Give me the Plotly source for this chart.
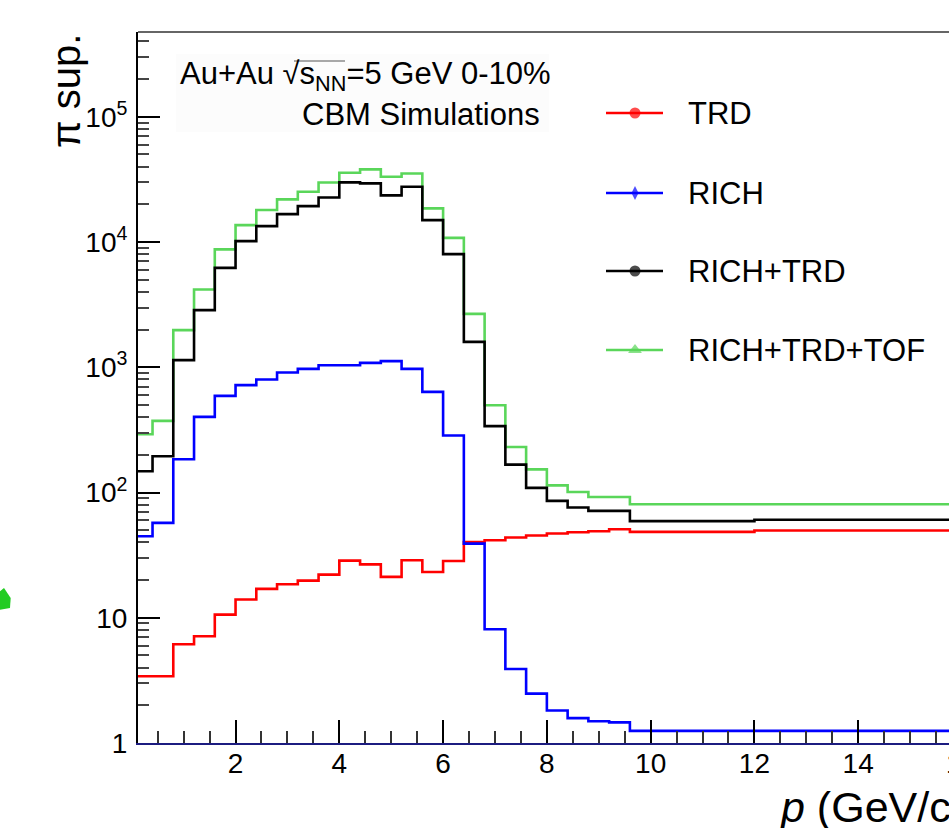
import plotly.graph_objects as go

# ---------------- data ----------------
# bin edges in p (GeV/c): 0.4 GeV/c bins up to 9.6, then two wide bins
bin_edges = [0.0, 0.4, 0.8, 1.2, 1.6, 2.0, 2.4, 2.8, 3.2, 3.6, 4.0, 4.4, 4.8,
             5.2, 5.6, 6.0, 6.4, 6.8, 7.2, 7.6, 8.0, 8.4, 8.8, 9.2, 9.6, 12.0, 20.0]

trd = [3.41, 3.41, 6.14, 7.11, 10.6, 13.97, 17.0, 18.5, 19.8, 22.1, 28.6, 26.7,
       21.2, 28.8, 23.2, 28.4, 40.3, 41.6, 43.7, 45.4, 47.1, 48.2, 49.1, 50.9,
       48.5, 49.7]
rich = [44.8, 57.2, 184.5, 402, 591, 720, 799, 908, 971, 1039, 1039, 1084,
        1119, 971, 636, 285, 39.1, 8.09, 3.90, 2.48, 1.82, 1.58, 1.49, 1.46,
        1.25, 1.25]
rich_trd = [148, 195, 1140, 2860, 6220, 10170, 13400, 16700, 19360, 22700,
            29930, 29380, 23560, 27620, 14960, 8000, 1596, 339, 167, 109, 85.7,
            75.9, 71.3, 71.3, 59.1, 60.6]
rich_trd_tof = [292, 373, 1980, 4180, 8730, 13650, 18000, 21900, 25200, 29900,
                35700, 38000, 33200, 35300, 18550, 10800, 2670, 498, 231, 153,
                114, 101, 92, 92, 80.7, 80.7]

series_names = ["TRD", "RICH", "RICH+TRD", "RICH+TRD+TOF"]
y_tick_vals = [1, 10, 100, 1000, 10000, 100000]
y_tick_text = ["1", "10", "10<sup>2</sup>", "10<sup>3</sup>", "10<sup>4</sup>", "10<sup>5</sup>"]
x_tick_vals = [2, 4, 6, 8, 10, 12, 14]

# ---------------- layout geometry ----------------
W, H = 949, 828
L, R, T, B = 138, 0, 32, 85
X_RANGE = [0.12, 15.75]
Y_RANGE = [0, 5.677]
FONT = "Liberation Sans"

def px2x(p):
    return (p - L) / (W - L - R)

def py2y(p):
    return (H - B - p) / (H - T - B)

colors = {"TRD": "#ff0000", "RICH": "#0000ff", "RICH+TRD": "#000000",
          "RICH+TRD+TOF": "#5ad65a"}
symbols = {"TRD": "circle", "RICH": "diamond-tall", "RICH+TRD": "circle",
           "RICH+TRD+TOF": "triangle-up"}
msizes = {"TRD": 11, "RICH": 10, "RICH+TRD": 11, "RICH+TRD+TOF": 12}
data = {"TRD": trd, "RICH": rich, "RICH+TRD": rich_trd, "RICH+TRD+TOF": rich_trd_tof}

fig = go.Figure()

draw_order = ["RICH+TRD+TOF", "RICH+TRD", "TRD", "RICH"]
for name in draw_order:
    vals = data[name]
    fig.add_trace(go.Scatter(
        x=bin_edges, y=list(vals) + [vals[-1]],
        mode="lines", line=dict(color=colors[name], width=2.6, shape="hv"),
        name=name, showlegend=False, hoverinfo="skip"))

# ---------------- hand-made legend on an overlay axis ----------------
legend_y_px = [113, 193, 271, 350]
for name, ypx in zip(series_names, legend_y_px):
    yy = py2y(ypx)
    fig.add_trace(go.Scatter(
        x=[px2x(606), px2x(635), px2x(663)], y=[yy, yy, yy],
        mode="lines+markers", xaxis="x2", yaxis="y2",
        line=dict(color=colors[name], width=2.6),
        marker=dict(symbol=symbols[name], size=[0, msizes[name], 0],
                    color=colors[name], line=dict(width=0)),
        showlegend=False, hoverinfo="skip"))
    fig.add_annotation(x=px2x(686), y=yy, xref="paper", yref="paper",
                       text=name, showarrow=False, xanchor="left", yanchor="middle",
                       font=dict(family=FONT, size=31, color="black"))

# ---------------- text ----------------
fig.add_annotation(
    x=px2x(178), y=py2y(76), xref="paper", yref="paper", showarrow=False,
    xanchor="left", yanchor="middle",
    text="Au+Au \u221as<sub>NN</sub>=5 GeV 0-10%",
    font=dict(family=FONT, size=31, color="black"))
fig.add_annotation(
    x=px2x(542), y=py2y(114), xref="paper", yref="paper", showarrow=False,
    xanchor="right", yanchor="middle", text="CBM Simulations",
    font=dict(family=FONT, size=31, color="black"))

# axis titles
fig.add_annotation(
    x=px2x(66), y=1, xref="paper", yref="paper", showarrow=False,
    xanchor="center", yanchor="top", textangle=-90, text="\u03c0 sup.",
    font=dict(family=FONT, size=40, color="black"))
fig.add_annotation(
    x=px2x(777), y=py2y(807), xref="paper", yref="paper", showarrow=False,
    xanchor="left", yanchor="middle", text="<i>p</i> (GeV/c)",
    font=dict(family=FONT, size=43, color="black"))
# partially visible "16" tick label at the cut right edge
fig.add_annotation(
    x=(16 - X_RANGE[0]) / (X_RANGE[1] - X_RANGE[0]), y=py2y(763),
    xref="paper", yref="paper", showarrow=False, xanchor="center",
    yanchor="middle", text="16", font=dict(family=FONT, size=28, color="black"))

# ---------------- shapes ----------------
shapes = [
    dict(type="rect", xref="paper", yref="paper", x0=px2x(176), x1=px2x(549),
         y0=py2y(132), y1=py2y(54), fillcolor="#fcfcfc", line=dict(width=0),
         layer="below"),
    # radical overline of sqrt(s_NN)
    dict(type="line", xref="paper", yref="paper", x0=px2x(294), x1=px2x(345),
         y0=py2y(61), y1=py2y(61), line=dict(color="#555555", width=1.2)),
    dict(type="line", xref="paper", yref="paper", x0=0, x1=1, y0=1, y1=1,
         line=dict(color="#333333", width=1.5)),
    dict(type="path", xref="paper", yref="paper",
         path="M {:.4f},{:.4f} L {:.4f},{:.4f} L {:.4f},{:.4f} L {:.4f},{:.4f} L {:.4f},{:.4f} Z".format(
             px2x(-2), py2y(593), px2x(4), py2y(588), px2x(10.7), py2y(598),
             px2x(10), py2y(608), px2x(-2), py2y(610)),
         fillcolor="#22cc22", line=dict(width=0)),
]

fig.update_layout(
    width=W, height=H,
    margin=dict(l=L, r=R, t=T, b=B, pad=0),
    paper_bgcolor="white", plot_bgcolor="white",
    showlegend=False,
    shapes=shapes,
    xaxis=dict(range=X_RANGE, showgrid=False, zeroline=False,
               showline=True, linecolor="#1c1c80", linewidth=2,
               ticks="inside", ticklen=23, tickwidth=1.5, tickcolor="black",
               tickvals=x_tick_vals, ticklabelstandoff=-6,
               tickfont=dict(family=FONT, size=28, color="black"),
               minor=dict(dtick=0.5, tick0=0, ticks="inside", ticklen=12,
                          tickwidth=1.5, tickcolor="#333333")),
    yaxis=dict(type="log", range=Y_RANGE, showgrid=False, zeroline=False,
               showline=True, linecolor="black", linewidth=2,
               ticks="inside", ticklen=22, tickwidth=1.5, tickcolor="black",
               tickvals=y_tick_vals, ticktext=y_tick_text, ticklabelstandoff=3,
               tickfont=dict(family=FONT, size=28, color="black"),
               minor=dict(dtick="D1", ticks="inside", ticklen=11,
                          tickwidth=1.5, tickcolor="#444444")),
    xaxis2=dict(overlaying="x", anchor="y2", range=[0, 1], visible=False,
                domain=[0, 1]),
    yaxis2=dict(overlaying="y", anchor="x2", range=[0, 1], visible=False),
)

fig.write_html("out.html", config={"displayModeBar": False},
               post_script="document.body.style.margin='0';document.body.style.overflow='hidden';")
